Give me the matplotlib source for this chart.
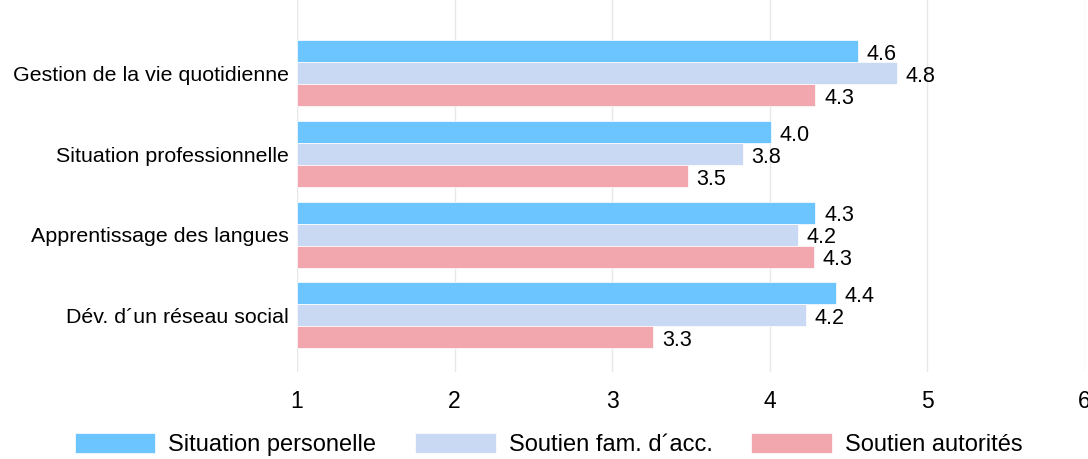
import numpy as np
import matplotlib.pyplot as plt

plt.rcParams['font.family'] = ['Liberation Sans', 'DejaVu Sans']

categories = ['Gestion de la vie quotidienne', 'Situation professionnelle',
              'Apprentissage des langues', 'Dév. d\u00b4un réseau social']
series = ['Situation personelle', 'Soutien fam. d\u00b4acc.', 'Soutien autorités']
perso = [4.56, 4.01, 4.29, 4.42]
famille = [4.81, 3.83, 4.18, 4.23]
autorites = [4.29, 3.48, 4.28, 3.26]
colors = ['#6CC5FF', '#C9D9F3', '#F2A7AF']

fig = plt.figure(figsize=(10.88, 4.59), dpi=100)
ax = fig.add_axes([0.273, 0.19, 0.724, 0.81])

pos = np.arange(len(categories))
h = 0.272
for i, (vals, c, name) in enumerate(zip([perso, famille, autorites], colors, series)):
    y = pos + (i - 1) * h
    w = np.array(vals) - 1
    ax.barh(y, w, h, left=1, color=c, label=name, edgecolor='white', linewidth=0.5)
    for yy, v in zip(y, vals):
        ax.text(v + 0.055, yy + 0.04, f'{v:.1f}', va='center', ha='left', fontsize=15.5)

ax.set_xlim(1, 6)
ax.set_ylim(3.7, -0.91)
ax.set_yticks(pos)
ax.set_yticklabels(categories, fontsize=15.4)
ax.set_xticks([1, 2, 3, 4, 5, 6])
ax.tick_params(axis='x', labelsize=16.5, length=0, pad=13)
ax.tick_params(axis='y', length=0, pad=6)
ax.grid(axis='x', color='#e8e8e8', linewidth=1)
ax.set_axisbelow(True)
for s in ax.spines.values():
    s.set_visible(False)

fig.legend(loc='center left', bbox_to_anchor=(0.069, 0.031), ncol=3, frameon=False,
           fontsize=17, handlelength=3.4, handleheight=0.9, columnspacing=1.65,
           handletextpad=0.55, borderpad=0, borderaxespad=0)

fig.savefig('out.png', dpi=100)
